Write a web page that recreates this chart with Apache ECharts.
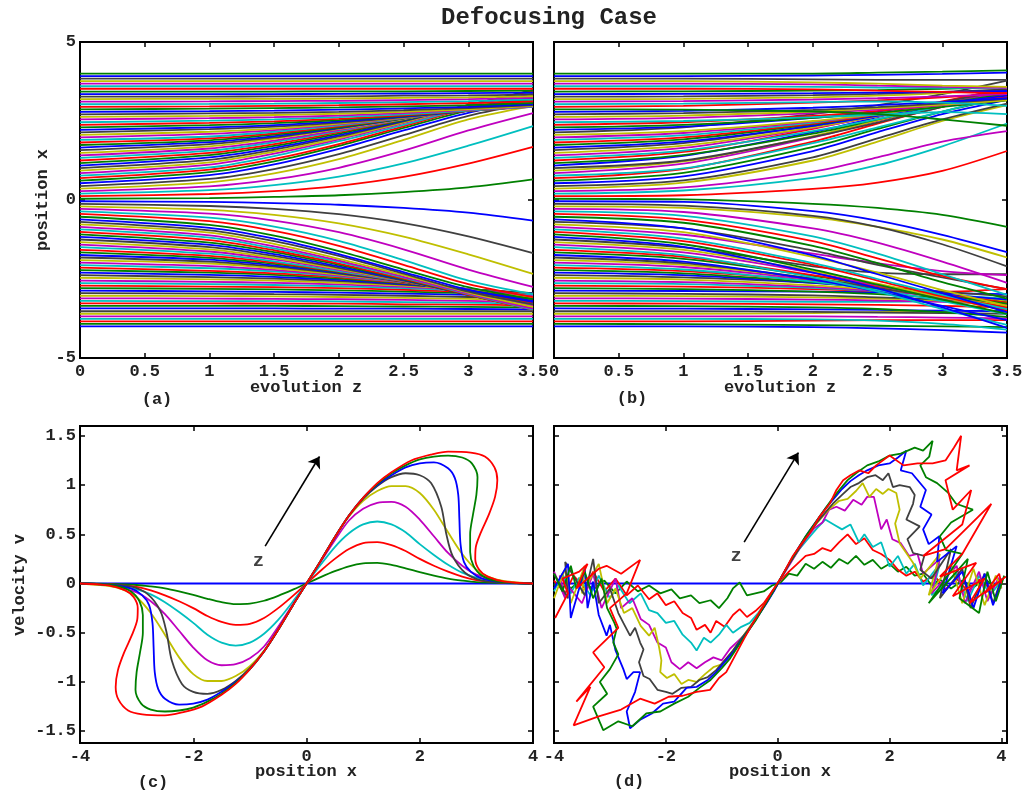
<!DOCTYPE html>
<html>
<head>
<meta charset="utf-8">
<title>Defocusing Case</title>
<script src="https://cdn.jsdelivr.net/npm/echarts@6.0.0/dist/echarts.min.js"></script>
<style>
  html, body { margin: 0; padding: 0; background: #fff; }
  #chartsDom { width: 1032px; height: 791px; }
</style>
</head>
<body>
<div id="chartsDom"></div>
<script>
// colour order of the curves: b g r c m y k
const lineColors = ["#0000ff", "#008000", "#ff0000", "#00bfbf", "#bf00bf", "#bfbf00", "#404040"];

// ticks
const zTicks = [0, 0.5, 1, 1.5, 2, 2.5, 3, 3.5];
const posTicks = [-5, 0, 5];
const xTicks = [-4, -2, 0, 2, 4];
const vTicks = [-1.5, -1, -0.5, 0, 0.5, 1, 1.5];

// (a) trajectories x(z), sampled at these z
const zTraj = [0, 1, 1.5, 2, 2.5, 3, 3.5];
// upper half, starting points 0.04 .. 3.43 (lower half is the mirror image)
const aUpper = [
  [0.04, 0.06, 0.10, 0.15, 0.25, 0.40, 0.65],
  [0.12, 0.19, 0.28, 0.45, 0.73, 1.15, 1.68],
  [0.20, 0.31, 0.47, 0.74, 1.16, 1.72, 2.34],
  [0.28, 0.43, 0.65, 1.02, 1.56, 2.20, 2.75],
  [0.36, 0.56, 0.84, 1.29, 1.90, 2.55, 2.98],
  [0.44, 0.67, 0.98, 1.45, 2.05, 2.66, 3.07],
  [0.53, 0.79, 1.13, 1.62, 2.20, 2.76, 3.14],
  [0.61, 0.88, 1.22, 1.71, 2.28, 2.84, 3.22],
  [0.69, 0.96, 1.30, 1.77, 2.33, 2.90, 3.30],
  [0.77, 1.03, 1.39, 1.86, 2.38, 2.93, 3.38],
  [0.85, 1.12, 1.47, 1.92, 2.43, 2.96, 3.44],
  [0.93, 1.19, 1.53, 1.96, 2.46, 2.98, 3.47],
  [1.01, 1.27, 1.59, 2.01, 2.49, 3.00, 3.48],
  [1.09, 1.35, 1.65, 2.05, 2.51, 3.00, 3.47],
  [1.17, 1.42, 1.71, 2.10, 2.53, 3.00, 3.46],
  [1.25, 1.49, 1.77, 2.15, 2.55, 2.99, 3.44],
  [1.33, 1.56, 1.83, 2.18, 2.56, 2.98, 3.40],
  [1.41, 1.63, 1.88, 2.21, 2.57, 2.96, 3.36],
  [1.49, 1.70, 1.94, 2.25, 2.57, 2.94, 3.31],
  [1.58, 1.77, 1.98, 2.27, 2.58, 2.92, 3.27],
  [1.66, 1.83, 2.02, 2.28, 2.58, 2.90, 3.23],
  [1.74, 1.89, 2.07, 2.30, 2.58, 2.88, 3.19],
  [1.82, 1.95, 2.11, 2.33, 2.59, 2.86, 3.14],
  [1.90, 2.01, 2.16, 2.36, 2.59, 2.84, 3.10],
  [1.98, 2.09, 2.21, 2.39, 2.60, 2.82, 3.05],
  [2.06, 2.16, 2.26, 2.42, 2.61, 2.82, 3.02],
  [2.14, 2.24, 2.32, 2.45, 2.62, 2.82, 2.99],
  [2.22, 2.30, 2.37, 2.49, 2.64, 2.82, 2.97],
  [2.30, 2.37, 2.43, 2.53, 2.66, 2.82, 2.96],
  [2.38, 2.44, 2.49, 2.57, 2.68, 2.82, 2.95],
  [2.46, 2.51, 2.55, 2.62, 2.71, 2.83, 2.95],
  [2.55, 2.59, 2.62, 2.67, 2.75, 2.85, 2.96],
  [2.63, 2.66, 2.69, 2.73, 2.79, 2.87, 2.98],
  [2.71, 2.74, 2.76, 2.79, 2.84, 2.91, 3.00],
  [2.79, 2.81, 2.83, 2.86, 2.90, 2.95, 3.03],
  [2.87, 2.89, 2.91, 2.93, 2.96, 3.00, 3.07],
  [2.95, 2.96, 2.98, 3.00, 3.03, 3.07, 3.12],
  [3.03, 3.04, 3.05, 3.07, 3.10, 3.13, 3.18],
  [3.11, 3.12, 3.13, 3.14, 3.16, 3.19, 3.23],
  [3.19, 3.20, 3.20, 3.21, 3.23, 3.25, 3.28],
  [3.27, 3.27, 3.28, 3.28, 3.30, 3.31, 3.34],
  [3.35, 3.35, 3.35, 3.36, 3.37, 3.38, 3.40],
  [3.43, 3.43, 3.43, 3.44, 3.44, 3.45, 3.46]
];
// outermost lines that stay put
const aFlatTop = [3.52, 3.60, 3.68, 3.76, 3.84, 3.92, 4.00];

// (b) noisy trajectories, sampled at these z
const zNoisy = [0, 1, 2, 2.5, 3, 3.5];
const bLower = [
  [-4.00, -4.00, -4.02, -4.06, -4.12, -4.20],
  [-3.92, -3.93, -3.96, -3.98, -4.00, -4.02],
  [-3.84, -3.84, -3.82, -3.80, -3.80, -3.80],
  [-3.76, -3.76, -3.78, -3.82, -3.92, -4.10],
  [-3.68, -3.68, -3.68, -3.70, -3.72, -3.75],
  [-3.60, -3.60, -3.58, -3.55, -3.52, -3.50],
  [-3.52, -3.52, -3.54, -3.56, -3.58, -3.60],
  [-3.43, -3.44, -3.46, -3.48, -3.50, -3.52],
  [-3.35, -3.36, -3.40, -3.45, -3.55, -3.70],
  [-3.27, -3.28, -3.30, -3.32, -3.35, -3.40],
  [-3.19, -3.20, -3.22, -3.22, -3.20, -3.18],
  [-3.11, -3.12, -3.15, -3.18, -3.22, -3.30],
  [-3.03, -3.04, -3.08, -3.12, -3.18, -3.28],
  [-2.95, -2.97, -3.02, -3.08, -3.15, -3.25],
  [-2.87, -2.88, -2.90, -2.92, -2.95, -2.98],
  [-2.79, -2.82, -2.90, -2.98, -3.10, -3.25],
  [-2.71, -2.74, -2.82, -2.88, -2.90, -2.82],
  [-2.63, -2.66, -2.78, -2.88, -3.00, -3.12],
  [-2.55, -2.60, -2.75, -2.88, -3.05, -3.25],
  [-2.46, -2.52, -2.70, -2.84, -3.00, -3.20],
  [-2.38, -2.45, -2.62, -2.75, -2.90, -3.05],
  [-2.30, -2.38, -2.62, -2.78, -2.98, -3.15],
  [-2.22, -2.32, -2.60, -2.80, -3.02, -3.25],
  [-2.14, -2.25, -2.55, -2.75, -3.00, -3.25],
  [-2.06, -2.20, -2.58, -2.85, -3.20, -3.62],
  [-1.98, -2.12, -2.52, -2.78, -3.05, -3.30],
  [-1.90, -2.05, -2.48, -2.75, -3.05, -3.35],
  [-1.82, -2.00, -2.48, -2.78, -3.10, -3.40],
  [-1.74, -1.95, -2.52, -2.90, -3.35, -3.80],
  [-1.66, -1.86, -2.40, -2.72, -3.02, -3.28],
  [-1.58, -1.80, -2.38, -2.72, -3.05, -3.40],
  [-1.49, -1.75, -2.45, -2.90, -3.45, -3.95],
  [-1.41, -1.66, -2.30, -2.70, -3.10, -3.45],
  [-1.33, -1.58, -2.25, -2.65, -3.08, -3.50],
  [-1.25, -1.50, -2.10, -2.30, -2.35, -2.35],
  [-1.17, -1.48, -2.30, -2.80, -3.40, -4.05],
  [-1.09, -1.40, -2.20, -2.68, -3.15, -3.60],
  [-1.01, -1.30, -2.05, -2.55, -3.05, -3.50],
  [-0.93, -1.22, -2.00, -2.50, -3.00, -3.45],
  [-0.85, -1.10, -1.70, -2.00, -2.25, -2.38],
  [-0.77, -1.02, -1.80, -2.30, -2.85, -3.35],
  [-0.69, -0.90, -1.60, -2.05, -2.45, -2.82],
  [-0.61, -0.90, -1.75, -2.35, -2.95, -3.55],
  [-0.53, -0.72, -1.45, -2.00, -2.60, -3.12],
  [-0.44, -0.62, -1.30, -1.85, -2.40, -2.82],
  [-0.36, -0.50, -1.15, -1.70, -2.35, -3.00],
  [-0.28, -0.38, -0.90, -1.35, -1.95, -2.62],
  [-0.20, -0.25, -0.55, -0.85, -1.25, -1.82],
  [-0.12, -0.18, -0.50, -0.85, -1.40, -2.10],
  [-0.04, -0.06, -0.35, -0.65, -1.10, -1.65]
];
const bUpper = [
  [0.04, 0.02, -0.12, -0.25, -0.47, -0.85],
  [0.12, 0.15, 0.35, 0.55, 0.92, 1.55],
  [0.20, 0.30, 0.70, 1.10, 1.70, 2.42],
  [0.28, 0.40, 0.90, 1.35, 1.85, 2.18],
  [0.36, 0.55, 1.25, 1.85, 2.50, 3.00],
  [0.44, 0.62, 1.35, 1.95, 2.55, 3.05],
  [0.53, 0.75, 1.55, 2.15, 2.72, 3.17],
  [0.61, 0.86, 1.68, 2.25, 2.80, 3.25],
  [0.69, 0.98, 1.85, 2.42, 2.95, 3.35],
  [0.77, 1.00, 1.80, 2.30, 2.80, 3.30],
  [0.85, 1.15, 1.98, 2.50, 3.02, 3.45],
  [0.93, 1.22, 2.02, 2.52, 3.02, 3.42],
  [1.01, 1.25, 2.00, 2.45, 2.95, 3.38],
  [1.09, 1.40, 2.15, 2.62, 3.10, 3.55],
  [1.17, 1.42, 2.10, 2.55, 3.00, 3.45],
  [1.25, 1.52, 2.25, 2.68, 3.12, 3.52],
  [1.33, 1.56, 2.18, 2.56, 2.98, 3.40],
  [1.41, 1.65, 2.28, 2.65, 3.05, 3.42],
  [1.49, 1.72, 2.30, 2.65, 3.02, 3.35],
  [1.58, 1.80, 2.35, 2.70, 3.10, 3.48],
  [1.66, 1.85, 2.35, 2.66, 3.00, 3.30],
  [1.74, 1.92, 2.40, 2.70, 3.05, 3.36],
  [1.82, 1.98, 2.42, 2.70, 3.02, 3.30],
  [1.90, 2.05, 2.45, 2.72, 3.00, 3.25],
  [1.98, 2.12, 2.48, 2.72, 3.00, 3.25],
  [2.06, 2.18, 2.50, 2.72, 2.98, 3.20],
  [2.14, 2.30, 2.72, 3.00, 3.35, 3.78],
  [2.22, 2.32, 2.60, 2.80, 3.05, 3.30],
  [2.30, 2.38, 2.60, 2.76, 2.95, 3.15],
  [2.38, 2.46, 2.66, 2.82, 3.02, 3.25],
  [2.46, 2.50, 2.62, 2.70, 2.78, 2.72],
  [2.55, 2.60, 2.75, 2.86, 3.00, 3.18],
  [2.63, 2.67, 2.80, 2.90, 3.02, 3.15],
  [2.71, 2.75, 2.85, 2.94, 3.06, 3.20],
  [2.79, 2.82, 2.92, 3.00, 3.10, 3.22],
  [2.87, 2.86, 2.80, 2.72, 2.55, 2.35],
  [2.95, 2.98, 3.08, 3.15, 3.25, 3.38],
  [3.03, 3.05, 3.10, 3.12, 3.08, 2.98],
  [3.11, 3.13, 3.18, 3.22, 3.28, 3.35],
  [3.19, 3.20, 3.25, 3.30, 3.38, 3.50],
  [3.27, 3.28, 3.32, 3.36, 3.42, 3.50],
  [3.35, 3.36, 3.38, 3.40, 3.42, 3.45],
  [3.43, 3.44, 3.46, 3.48, 3.52, 3.58],
  [3.52, 3.52, 3.50, 3.46, 3.42, 3.38],
  [3.60, 3.60, 3.58, 3.56, 3.55, 3.55],
  [3.68, 3.68, 3.66, 3.62, 3.58, 3.55],
  [3.76, 3.76, 3.72, 3.68, 3.62, 3.58],
  [3.84, 3.84, 3.82, 3.80, 3.80, 3.80],
  [3.92, 3.92, 3.94, 3.96, 3.99, 4.03],
  [4.00, 4.00, 4.00, 4.03, 4.06, 4.10]
];

// (c) phase curves [x, v], half x >= 0 (the other half is odd-symmetric)
const cHalf = [
  [[0, 0], [4, 0]],
  [[0, 0], [0.25, 0.065], [0.5, 0.125], [0.75, 0.175], [1.0, 0.205], [1.25, 0.21], [1.5, 0.19], [1.75, 0.155], [2.0, 0.115], [2.25, 0.08], [2.5, 0.05], [2.75, 0.03], [3.0, 0.015], [3.5, 0.004], [4, 0]],
  [[0, 0], [0.25, 0.13], [0.5, 0.25], [0.75, 0.35], [1.0, 0.41], [1.25, 0.42], [1.5, 0.39], [1.75, 0.33], [2.0, 0.25], [2.25, 0.18], [2.5, 0.12], [2.75, 0.07], [3.0, 0.035], [3.5, 0.01], [4, 0]],
  [[0, 0], [0.25, 0.19], [0.5, 0.37], [0.75, 0.51], [1.0, 0.6], [1.25, 0.63], [1.5, 0.6], [1.75, 0.52], [2.0, 0.4], [2.25, 0.29], [2.5, 0.19], [2.75, 0.11], [3.0, 0.06], [3.5, 0.015], [4, 0]],
  [[0, 0], [0.25, 0.22], [0.5, 0.44], [0.75, 0.64], [1.0, 0.76], [1.25, 0.82], [1.5, 0.83], [1.75, 0.78], [2.0, 0.65], [2.25, 0.48], [2.5, 0.31], [2.75, 0.18], [3.0, 0.09], [3.5, 0.02], [4, 0]],
  [[0, 0], [0.25, 0.23], [0.5, 0.47], [0.75, 0.68], [1.0, 0.84], [1.25, 0.94], [1.5, 0.99], [1.75, 0.99], [2.0, 0.92], [2.25, 0.75], [2.5, 0.52], [2.75, 0.3], [3.0, 0.14], [3.25, 0.06], [3.5, 0.025], [4, 0]],
  [[0, 0], [0.25, 0.23], [0.5, 0.47], [0.75, 0.69], [1.0, 0.86], [1.25, 0.99], [1.5, 1.08], [1.75, 1.12], [2.0, 1.1], [2.2, 1.02], [2.38, 0.78], [2.47, 0.5], [2.58, 0.28], [2.8, 0.11], [3.1, 0.03], [3.5, 0.01], [4, 0]],
  [[0, 0], [0.25, 0.23], [0.5, 0.47], [0.75, 0.69], [1.0, 0.87], [1.25, 1.0], [1.5, 1.1], [1.75, 1.18], [2.0, 1.22], [2.25, 1.23], [2.5, 1.17], [2.62, 1.07], [2.68, 0.9], [2.7, 0.65], [2.72, 0.4], [2.78, 0.22], [2.9, 0.12], [3.1, 0.05], [3.5, 0.012], [4, 0]],
  [[0, 0], [0.25, 0.23], [0.5, 0.47], [0.75, 0.69], [1.0, 0.87], [1.25, 1.01], [1.5, 1.12], [1.75, 1.2], [2.0, 1.26], [2.25, 1.29], [2.5, 1.3], [2.75, 1.28], [2.92, 1.22], [3.02, 1.08], [3.0, 0.9], [2.94, 0.7], [2.89, 0.5], [2.89, 0.32], [2.95, 0.18], [3.1, 0.08], [3.4, 0.02], [4, 0]],
  [[0, 0], [0.25, 0.23], [0.5, 0.47], [0.75, 0.69], [1.0, 0.87], [1.25, 1.02], [1.5, 1.13], [1.85, 1.25], [2.2, 1.31], [2.5, 1.34], [2.9, 1.33], [3.15, 1.29], [3.32, 1.18], [3.37, 1.05], [3.33, 0.88], [3.22, 0.7], [3.08, 0.52], [2.99, 0.37], [2.98, 0.25], [3.05, 0.14], [3.2, 0.07], [3.5, 0.02], [4, 0]]
];

// (d) noisy phase curves [x, v]
const dCurve = [
  [[-4, 0], [4, 0]],
  [[-4, -0.02], [-3.85, 0.06], [-3.7, -0.05], [-3.5, 0.04], [-3.3, -0.06], [-3.1, 0.03], [-2.9, -0.1], [-2.7, 0.02], [-2.5, -0.08], [-2.3, -0.02], [-2.1, -0.1], [-1.9, -0.06], [-1.75, -0.15], [-1.55, -0.12], [-1.4, -0.2], [-1.2, -0.17], [-1.05, -0.25], [-0.9, -0.15], [-0.8, -0.05], [-0.68, 0.01], [-0.55, -0.12], [-0.4, -0.1], [-0.25, -0.08], [-0.1, -0.02], [0.05, 0.01], [0.2, 0.1], [0.35, 0.08], [0.5, 0.2], [0.65, 0.15], [0.8, 0.22], [0.95, 0.16], [1.1, 0.25], [1.25, 0.2], [1.4, 0.28], [1.55, 0.19], [1.7, 0.24], [1.85, 0.15], [2.0, 0.2], [2.15, 0.12], [2.3, 0.17], [2.45, 0.08], [2.6, 0.1], [2.75, -0.02], [2.9, 0.04], [3.1, -0.05], [3.3, 0.03], [3.5, -0.04], [3.7, 0.05], [3.85, -0.02], [4, 0.02]],
  [[-4, 0.03], [-3.8, -0.1], [-3.65, 0.08], [-3.45, -0.05], [-3.3, 0.12], [-3.1, -0.08], [-2.9, 0.05], [-2.7, -0.12], [-2.5, -0.02], [-2.3, -0.16], [-2.15, -0.1], [-2.0, -0.22], [-1.85, -0.18], [-1.7, -0.3], [-1.55, -0.35], [-1.45, -0.47], [-1.3, -0.42], [-1.2, -0.5], [-1.1, -0.38], [-0.95, -0.44], [-0.8, -0.32], [-0.68, -0.26], [-0.55, -0.34], [-0.4, -0.28], [-0.25, -0.2], [-0.1, -0.08], [0.05, 0.03], [0.2, 0.12], [0.35, 0.2], [0.5, 0.28], [0.65, 0.3], [0.8, 0.36], [0.95, 0.33], [1.1, 0.42], [1.25, 0.5], [1.4, 0.4], [1.55, 0.46], [1.7, 0.34], [1.85, 0.3], [2.0, 0.24], [2.15, 0.14], [2.3, 0.08], [2.45, 0.12], [2.6, 0.02], [2.8, 0.08], [3.0, -0.06], [3.2, 0.05], [3.4, -0.08], [3.6, 0.04], [3.8, -0.05], [4, 0.02]],
  [[-4, -0.08], [-3.85, 0.1], [-3.7, -0.1], [-3.55, 0.06], [-3.35, -0.12], [-3.2, 0.08], [-3.0, -0.15], [-2.85, -0.02], [-2.65, -0.2], [-2.45, -0.1], [-2.3, -0.27], [-2.15, -0.3], [-2.0, -0.4], [-1.85, -0.38], [-1.7, -0.52], [-1.55, -0.6], [-1.45, -0.68], [-1.32, -0.55], [-1.2, -0.6], [-1.05, -0.52], [-0.92, -0.42], [-0.8, -0.5], [-0.65, -0.44], [-0.5, -0.4], [-0.35, -0.3], [-0.2, -0.18], [-0.05, -0.04], [0.1, 0.1], [0.25, 0.24], [0.4, 0.36], [0.55, 0.46], [0.7, 0.56], [0.85, 0.65], [1.0, 0.6], [1.15, 0.55], [1.3, 0.6], [1.45, 0.42], [1.55, 0.5], [1.7, 0.37], [1.85, 0.42], [2.0, 0.17], [2.15, 0.28], [2.3, 0.1], [2.45, 0.2], [2.6, -0.02], [2.9, 0.2], [2.75, -0.12], [3.2, 0.1], [3.4, -0.18], [3.6, 0.08], [3.8, -0.12], [4, 0.03]],
  [[-4, 0.12], [-3.8, -0.15], [-3.9, 0.08], [-3.5, -0.2], [-3.3, 0.1], [-3.15, -0.25], [-2.9, 0.05], [-2.8, -0.25], [-2.6, -0.15], [-2.45, -0.36], [-2.3, -0.42], [-2.15, -0.6], [-2.0, -0.65], [-1.9, -0.8], [-1.75, -0.87], [-1.6, -0.8], [-1.45, -0.86], [-1.3, -0.8], [-1.15, -0.75], [-1.0, -0.78], [-0.85, -0.66], [-0.7, -0.58], [-0.55, -0.5], [-0.4, -0.36], [-0.25, -0.24], [-0.1, -0.1], [0.05, 0.04], [0.2, 0.18], [0.35, 0.32], [0.5, 0.45], [0.65, 0.56], [0.8, 0.62], [0.92, 0.75], [1.05, 0.78], [1.2, 0.74], [1.35, 0.85], [1.5, 0.8], [1.6, 0.88], [1.72, 0.88], [1.85, 0.55], [1.95, 0.65], [2.05, 0.45], [2.2, 0.41], [2.35, 0.28], [2.5, 0.3], [2.6, 0.1], [2.9, 0.25], [2.75, -0.1], [3.2, 0.18], [3.35, -0.2], [3.6, 0.12], [3.75, -0.18], [3.95, 0.06], [4, -0.05]],
  [[-4, -0.15], [-3.8, 0.15], [-3.7, -0.2], [-3.45, 0.18], [-3.5, -0.1], [-3.2, 0.2], [-3.05, -0.2], [-2.9, -0.05], [-2.75, -0.3], [-2.6, -0.25], [-2.45, -0.43], [-2.3, -0.53], [-2.2, -0.45], [-2.12, -0.65], [-2.08, -0.78], [-2.1, -0.9], [-1.98, -0.96], [-1.85, -0.92], [-1.72, -1.02], [-1.6, -0.98], [-1.45, -1.0], [-1.3, -0.92], [-1.15, -0.85], [-1.0, -0.82], [-0.85, -0.72], [-0.7, -0.6], [-0.55, -0.48], [-0.4, -0.36], [-0.25, -0.22], [-0.1, -0.1], [0.05, 0.04], [0.2, 0.2], [0.35, 0.33], [0.5, 0.46], [0.65, 0.58], [0.8, 0.68], [0.95, 0.77], [1.1, 0.84], [1.25, 0.86], [1.4, 0.94], [1.52, 1.02], [1.64, 0.88], [1.76, 0.96], [1.88, 0.91], [1.98, 0.96], [2.12, 0.92], [2.18, 0.75], [2.1, 0.61], [2.18, 0.41], [2.3, 0.31], [2.42, 0.21], [2.55, 0.05], [2.9, 0.3], [2.7, -0.12], [3.1, 0.2], [3.3, -0.2], [3.5, 0.15], [3.7, -0.22], [3.9, 0.08], [4, -0.05]],
  [[-4, 0.1], [-3.75, -0.15], [-3.8, 0.22], [-3.45, -0.12], [-3.3, 0.25], [-3.2, -0.2], [-3.0, -0.05], [-2.85, -0.3], [-2.76, -0.4], [-2.64, -0.53], [-2.55, -0.45], [-2.46, -0.6], [-2.4, -0.67], [-2.48, -0.8], [-2.4, -0.94], [-2.29, -0.97], [-2.15, -1.08], [-2.0, -1.1], [-1.88, -1.12], [-1.72, -1.06], [-1.55, -1.05], [-1.4, -0.98], [-1.25, -0.95], [-1.1, -0.88], [-0.95, -0.78], [-0.8, -0.68], [-0.65, -0.56], [-0.5, -0.45], [-0.35, -0.32], [-0.2, -0.19], [-0.05, -0.05], [0.1, 0.1], [0.25, 0.24], [0.4, 0.37], [0.55, 0.5], [0.7, 0.62], [0.85, 0.72], [1.0, 0.82], [1.15, 0.9], [1.3, 0.98], [1.45, 1.02], [1.6, 1.08], [1.75, 1.1], [1.88, 1.05], [1.98, 1.12], [2.06, 0.98], [2.18, 1.0], [2.36, 0.98], [2.45, 0.9], [2.42, 0.81], [2.3, 0.65], [2.54, 0.58], [2.32, 0.45], [2.42, 0.31], [2.62, 0.28], [2.55, 0.14], [2.75, 0.05], [3.1, 0.35], [2.9, -0.15], [3.3, 0.15], [3.45, -0.25], [3.7, 0.1], [3.85, -0.2], [4, 0.05]],
  [[-4, -0.05], [-3.75, 0.2], [-3.7, -0.35], [-3.45, 0.15], [-3.4, -0.25], [-3.3, 0.02], [-3.2, -0.32], [-3.06, -0.53], [-3.0, -0.42], [-2.9, -0.68], [-2.76, -0.87], [-2.7, -0.97], [-2.58, -0.9], [-2.46, -0.9], [-2.55, -1.1], [-2.7, -1.3], [-2.64, -1.47], [-2.45, -1.38], [-2.25, -1.32], [-2.05, -1.22], [-1.85, -1.2], [-1.63, -1.06], [-1.45, -1.05], [-1.25, -0.98], [-1.1, -0.9], [-0.95, -0.8], [-0.8, -0.7], [-0.65, -0.58], [-0.5, -0.46], [-0.35, -0.33], [-0.2, -0.2], [-0.05, -0.06], [0.1, 0.1], [0.25, 0.25], [0.4, 0.39], [0.55, 0.52], [0.7, 0.64], [0.85, 0.76], [1.0, 0.86], [1.15, 0.96], [1.3, 1.04], [1.45, 1.1], [1.6, 1.15], [1.8, 1.2], [2.0, 1.22], [2.15, 1.28], [2.3, 1.35], [2.2, 1.15], [2.4, 1.12], [2.65, 0.95], [2.55, 0.78], [2.75, 0.7], [2.6, 0.55], [2.7, 0.4], [2.89, 0.48], [2.85, 0.22], [3.2, 0.38], [2.95, -0.1], [3.3, 0.12], [3.5, -0.25], [3.7, 0.1], [3.85, -0.22], [4.02, 0.05]],
  [[-4, 0.1], [-3.85, -0.08], [-3.7, 0.18], [-3.6, -0.05], [-3.45, 0.12], [-3.3, -0.15], [-3.15, 0.05], [-3.05, -0.25], [-2.92, -0.4], [-2.88, -0.46], [-2.94, -0.6], [-2.85, -0.72], [-3.0, -0.87], [-3.18, -1.0], [-3.05, -1.12], [-3.3, -1.25], [-3.12, -1.49], [-2.85, -1.4], [-2.6, -1.45], [-2.35, -1.32], [-2.1, -1.3], [-1.85, -1.22], [-1.6, -1.15], [-1.4, -1.06], [-1.2, -0.98], [-1.0, -0.86], [-0.85, -0.76], [-0.7, -0.63], [-0.55, -0.5], [-0.4, -0.38], [-0.25, -0.24], [-0.1, -0.1], [0.05, 0.05], [0.2, 0.2], [0.35, 0.34], [0.5, 0.48], [0.65, 0.6], [0.8, 0.72], [0.95, 0.84], [1.1, 0.95], [1.25, 1.05], [1.4, 1.12], [1.6, 1.2], [1.8, 1.24], [2.0, 1.3], [2.2, 1.32], [2.45, 1.38], [2.6, 1.35], [2.77, 1.45], [2.71, 1.29], [2.55, 1.2], [2.65, 1.08], [2.85, 1.02], [3.05, 0.92], [3.19, 0.81], [3.49, 0.75], [3.1, 0.62], [2.9, 0.48], [3.01, 0.34], [3.3, 0.3], [2.7, -0.2], [3.4, 0.25], [3.25, -0.15], [3.6, -0.3], [3.75, 0.12], [3.9, -0.18], [4.05, 0.08]],
  [[-3.98, -0.35], [-3.75, -0.1], [-3.85, 0.05], [-3.55, 0.12], [-3.4, 0.2], [-3.6, -0.05], [-3.2, 0.15], [-3.06, 0.18], [-2.8, 0.1], [-2.46, 0.24], [-2.7, -0.1], [-3.0, -0.25], [-2.85, -0.45], [-3.3, -0.7], [-3.1, -0.85], [-3.6, -1.2], [-3.35, -1.05], [-3.65, -1.44], [-3.2, -1.35], [-2.8, -1.28], [-2.46, -1.17], [-2.2, -1.22], [-1.95, -1.15], [-1.7, -1.14], [-1.45, -1.1], [-1.21, -1.08], [-1.05, -0.96], [-0.92, -0.9], [-0.75, -0.72], [-0.6, -0.56], [-0.44, -0.4], [-0.25, -0.22], [-0.1, -0.08], [0.05, 0.05], [0.27, 0.28], [0.42, 0.4], [0.57, 0.51], [0.75, 0.68], [0.93, 0.81], [1.05, 0.95], [1.17, 1.05], [1.3, 1.1], [1.46, 1.15], [1.62, 1.12], [1.76, 1.2], [2.0, 1.3], [2.25, 1.2], [2.5, 1.22], [2.77, 1.22], [3.0, 1.25], [3.15, 1.38], [3.28, 1.5], [3.2, 1.15], [3.43, 1.2], [3.0, 1.05], [3.13, 0.75], [3.46, 0.95], [3.3, 0.6], [2.6, 0.28], [3.0, 0.35], [3.82, 0.81], [3.3, 0.3], [2.9, 0.07], [3.55, 0.21], [3.13, -0.13], [3.7, 0.05], [3.43, -0.2], [4.08, 0.07], [3.7, -0.1], [3.96, 0.1], [4.0, 0]]
];

// arrows marked "z" in (c) and (d): tail, head
const arrowC = [[-0.73, 0.38], [0.23, 1.29]];
const arrowD = [[-0.6, 0.42], [0.37, 1.33]];
const zMarkC = [-0.85, 0.23];
const zMarkD = [-0.74, 0.28];

const font = { fontFamily: "Liberation Mono", fontWeight: "bold", color: "#222" };

const myChart = echarts.init(document.getElementById("chartsDom"));

const grids = [
  { left: 80, top: 42, width: 453, height: 316 },
  { left: 554, top: 42, width: 453, height: 316 },
  { left: 80, top: 426, width: 453, height: 317 },
  { left: 554, top: 426, width: 453, height: 317 }
].map(g => Object.assign(g, { show: true, borderColor: "#000", borderWidth: 2, backgroundColor: "#fff" }));

// each grid gets a labelled axis plus a mirror axis carrying only ticks
function axes(pos, mirror, gridIndex, min, max, ticks, showLabel) {
  const tick = { show: true, inside: true, length: 5, customValues: ticks, lineStyle: { color: "#000", width: 1.5 } };
  const base = { type: "value", gridIndex, min, max, axisLine: { show: false, onZero: false }, splitLine: { show: false }, axisTick: tick };
  return [
    Object.assign({ position: pos, axisLabel: Object.assign({ show: showLabel, customValues: ticks, margin: pos === "left" ? 4 : 5, fontSize: 17, formatter: v => String(v) }, font) }, base),
    Object.assign({ position: mirror, axisLabel: { show: false } }, base)
  ];
}

const xAxis = [].concat(
  axes("bottom", "top", 0, 0, 3.5, zTicks, true),
  axes("bottom", "top", 1, 0, 3.5, zTicks, true),
  axes("bottom", "top", 2, -4, 4, xTicks, true),
  axes("bottom", "top", 3, -4, 4.1, xTicks, true)
);
const yAxis = [].concat(
  axes("left", "right", 0, -5, 5, posTicks, true),
  axes("left", "right", 1, -5, 5, posTicks, false),
  axes("left", "right", 2, -1.62, 1.6, vTicks, true),
  axes("left", "right", 3, -1.62, 1.6, vTicks, false)
);

const series = [];
function addCurves(panel, curves, smooth) {
  curves.forEach((pts, i) => {
    series.push({
      type: "line", xAxisIndex: panel * 2, yAxisIndex: panel * 2,
      data: pts, showSymbol: false, smooth: smooth, silent: true,
      emphasis: { disabled: true },
      lineStyle: { width: 1.8, color: lineColors[i % 7] }
    });
  });
}

// (a): mirror the upper half to get the lower half, order bottom to top
const aTop = aUpper.concat(aFlatTop.map(v => zTraj.map(() => v)));
const aAll = aTop.slice().reverse().map(r => r.map(v => -v)).concat(aTop);
addCurves(0, aAll.map(r => r.map((v, j) => [zTraj[j], v])), 0.3);

// (b)
addCurves(1, bLower.concat(bUpper).map(r => r.map((v, j) => [zNoisy[j], v])), 0.3);

// (c): odd-symmetric completion of each half curve
addCurves(2, cHalf.map(h => h.slice(1).reverse().map(p => [-p[0], -p[1]]).concat(h)), 0.3);

// (d)
addCurves(3, dCurve, false);

function arrowSeries(panel, arrow, mark) {
  return {
    type: "scatter", xAxisIndex: panel * 2, yAxisIndex: panel * 2,
    data: [mark], symbolSize: 0, silent: true,
    label: Object.assign({ show: true, position: "inside", formatter: "z", fontSize: 19 }, font, { color: "#111" }),
    markLine: {
      silent: true, symbol: ["none", "arrow"], symbolSize: 11,
      label: { show: false },
      lineStyle: { color: "#000", width: 1.6, type: "solid" },
      data: [[{ coord: arrow[0] }, { coord: arrow[1] }]]
    }
  };
}
series.push(arrowSeries(2, arrowC, zMarkC));
series.push(arrowSeries(3, arrowD, zMarkD));

function text(str, x, y, size, rot) {
  return {
    type: "text", x, y, rotation: rot || 0, silent: true,
    style: { text: str, fill: "#222", font: "bold " + size + "px 'Liberation Mono'", textAlign: "center", textVerticalAlign: "middle" }
  };
}

const option = {
  animation: false,
  backgroundColor: "#fff",
  grid: grids,
  xAxis,
  yAxis,
  series,
  graphic: [
    text("Defocusing Case", 549, 18, 24),
    text("position x", 43, 200, 17, Math.PI / 2),
    text("velocity v", 20, 585, 17, Math.PI / 2),
    text("evolution z", 306, 388, 17),
    text("evolution z", 780, 388, 17),
    text("(a)", 157, 400, 17),
    text("(b)", 632, 399, 17),
    text("position x", 306, 772, 17),
    text("position x", 780, 772, 17),
    text("(c)", 153, 783, 17),
    text("(d)", 629, 782, 17)
  ]
};
option && myChart.setOption(option);
</script>
</body>
</html>
